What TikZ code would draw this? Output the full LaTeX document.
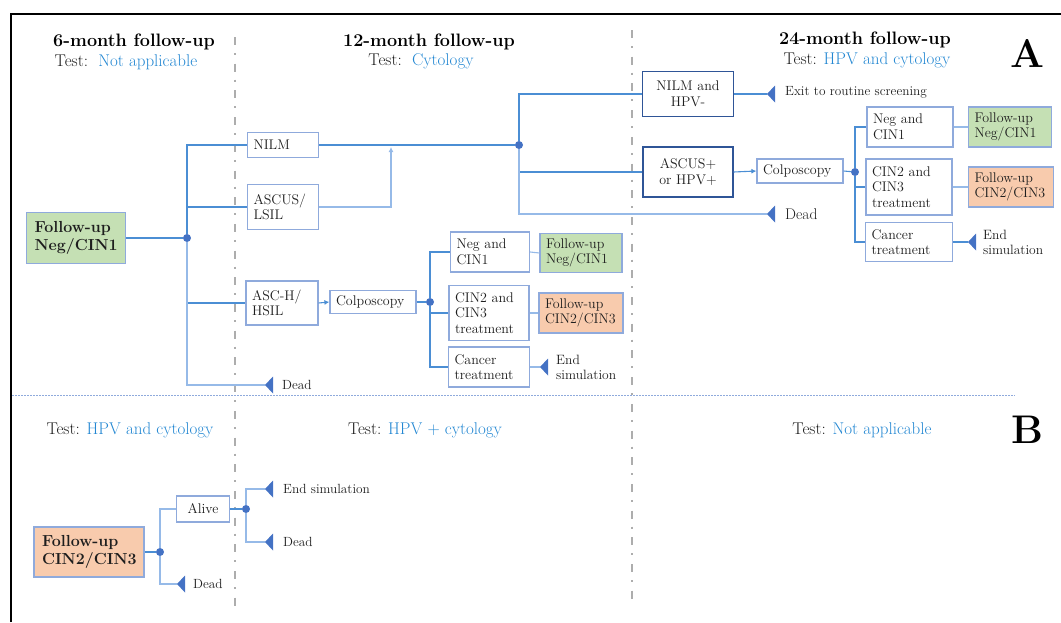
\documentclass[tikz,border=0pt]{standalone}
\usetikzlibrary{arrows.meta}

\definecolor{boxline}{RGB}{143,170,220}
\definecolor{darkline}{RGB}{47,85,151}
\definecolor{conncol}{RGB}{75,142,212}
\definecolor{lightconn}{RGB}{150,186,232}
\definecolor{dotblue}{RGB}{68,114,196}
\definecolor{greenfill}{RGB}{197,224,180}
\definecolor{orangefill}{RGB}{248,203,173}
\definecolor{testblue}{RGB}{35,135,210}
\definecolor{inkcol}{RGB}{30,30,30}

\tikzset{
  stbox/.style={draw=boxline, line width=1.2pt, fill=white, inner xsep=6pt, inner ysep=2pt,
    align=left, text=inkcol, font=\fontsize{14}{15.5}\selectfont},
  dkbox/.style={stbox, draw=darkline, align=center},
  gnbox/.style={stbox, fill=greenfill},
  ogbox/.style={stbox, fill=orangefill},
  bigbold/.style={font=\bfseries\fontsize{16}{18}\selectfont, inner xsep=8pt},
  joint/.style={circle, fill=dotblue, inner sep=0pt, minimum size=8pt},
  conn/.style={draw=conncol, line width=1.1pt},
  lightconn/.style={draw=lightconn, line width=1.1pt},
  connarrow/.style={conn, -{Latex[length=5pt,width=5pt]}},
  note/.style={anchor=west, inner sep=0pt, text=inkcol, align=left, font=\fontsize{13.3}{15}\selectfont},
  heading/.style={text=black, font=\bfseries\fontsize{18}{20}\selectfont},
  testline/.style={text=inkcol, font=\fontsize{17}{19}\selectfont},
  panelmark/.style={text=black, font=\bfseries\fontsize{40}{40}\selectfont},
  colsep/.style={draw=black!32, line width=2pt, dash pattern=on 8pt off 8pt on 2pt off 8.7pt},
  deadtip/.pic={\fill[dotblue] (0,0) -- (8,-8.5) -- (8,8.5) -- cycle;}
}

\begin{document}
\begin{tikzpicture}[x=1pt, y=-1pt]
    % Fix the page size
    \useasboundingbox (0,0) rectangle (1061,622);
    % Draw the frame on the left and at the top
    \draw[line width=2pt] (11,622) -- (11,14) -- (1061,14);
    % Draw the column separators
    \draw[colsep] (235,37) -- (235,608);
    \draw[colsep] (632,30) -- (632,600);
    % Draw the dotted line between A and B
    \draw[boxline, line width=0.8pt, dash pattern=on 1.5pt off 1.5pt] (12,395) -- (1015,395);

    % Headings of the columns
    \node[heading] (h6) at (134,42) {6-month follow-up};
    \node[testline] (t6) at (126,62) {Test:\ \ \textcolor{testblue}{Not applicable}};
    \node[heading] (h12) at (429,42) {12-month follow-up};
    \node[testline] (t12) at (421,61) {Test:\ \ \textcolor{testblue}{Cytology}};
    \node[heading] (h24) at (865,40) {24-month follow-up};
    \node[testline] (t24) at (867,60) {Test: \textcolor{testblue}{HPV and cytology}};
    \node[panelmark] (pa) at (1027,53) {A};

    % Panel A, 6-month column
    \node[gnbox, bigbold, text width=83pt, minimum height=51pt] (fu1) at (76,238) {Follow-up\\Neg/CIN1};
    \node[joint] (d1) at (187,238) {};
    \node[stbox, text width=59pt, minimum height=25pt] (nilm) at (283,145) {NILM};
    \node[stbox, text width=59pt, minimum height=45pt] (ascus) at (283,207) {ASCUS/\\LSIL};
    \node[stbox, text width=60pt, minimum height=44pt] (asch) at (282,303) {ASC-H/\\HSIL};
    \coordinate (dead1) at (265,385);
    \pic at (dead1) {deadtip};
    \node[note] (dead1t) at (282,385) {Dead};
    \draw[conn] (fu1.east) -- (d1);
    \draw[conn] (d1) |- (nilm.west);
    \draw[conn] (d1) |- (ascus.west);
    \draw[conn] (d1) |- (asch.west);
    \draw[lightconn] (d1) |- (dead1);

    % Panel A, 12-month column
    \node[stbox, text width=74pt, minimum height=23pt] (colp1) at (373,302) {Colposcopy};
    \node[joint] (d2) at (430,302) {};
    \node[stbox, text width=67pt, minimum height=40pt] (neg1) at (490,252) {Neg and\\CIN1};
    \node[stbox, text width=68pt, minimum height=55pt] (cin1) at (489,313) {CIN2 and\\CIN3\\treatment};
    \node[stbox, text width=69pt, minimum height=40pt] (canc1) at (489,367) {Cancer\\treatment};
    \node[gnbox, text width=70pt, minimum height=39pt] (fun1) at (581,253) {Follow-up\\Neg/CIN1};
    \node[ogbox, text width=72pt, minimum height=40pt] (fuc1) at (581,313) {Follow-up\\CIN2/CIN3};
    \coordinate (end1) at (540,367);
    \pic at (end1) {deadtip};
    \node[note, font=\fontsize{13.5}{15}\selectfont] (end1t) at (556,367) {End\\simulation};
    \draw[connarrow] (asch.east) -- (colp1.west);
    \draw[conn] (colp1.east) -- (d2);
    \draw[conn] (d2) |- (neg1.west);
    \draw[conn] (d2) |- (cin1.west);
    \draw[conn] (d2) |- (canc1.west);
    \draw[lightconn] (neg1.east) -- (fun1.west);
    \draw[lightconn] (cin1.east) -- (fuc1.west);
    \draw[lightconn] (canc1.east) -- (end1);
    \coordinate (merge) at (391,147);
    \node[joint] (d3) at (519,145) {};
    \draw[conn] (nilm.east) -- (d3);
    \draw[lightconn, -{Latex[length=5pt,width=5pt]}] (ascus.east) -| (merge);

    % Panel A, 24-month column
    \node[dkbox, text width=79pt, minimum height=45pt] (nhpv) at (688,94) {NILM and\\HPV-};
    \node[dkbox, text width=78pt, minimum height=50pt] (ahpv) at (688,172) {ASCUS+\\or HPV+};
    \coordinate (exit) at (767,94);
    \pic at (exit) {deadtip};
    \node[note] (exitt) at (785,92) {Exit to routine screening};
    \coordinate (dead2) at (767,214);
    \pic at (dead2) {deadtip};
    \node[note, font=\fontsize{15.5}{17}\selectfont] (dead2t) at (785,214) {Dead};
    \draw[conn] (d3) |- (nhpv.west);
    \draw[conn] (d3) |- (ahpv.west);
    \draw[lightconn] (d3) |- (dead2);
    \draw[conn] (nhpv.east) -- (exit);
    \node[stbox, text width=74pt, minimum height=24pt] (colp2) at (800,171) {Colposcopy};
    \node[joint] (d4) at (855,172) {};
    \node[stbox, text width=74pt, minimum height=40pt] (neg2) at (910,127) {Neg and\\CIN1};
    \node[stbox, text width=74pt, minimum height=56pt] (cin2) at (909,187) {CIN2 and\\CIN3\\treatment};
    \node[stbox, text width=75pt, minimum height=39pt] (canc2) at (909,242) {Cancer\\treatment};
    \node[gnbox, text width=71pt, minimum height=40pt] (fun2) at (1010,127) {Follow-up\\Neg/CIN1};
    \node[ogbox, text width=73pt, minimum height=40pt] (fuc2) at (1011,187) {Follow-up\\CIN2/CIN3};
    \coordinate (end2) at (968,242);
    \pic at (end2) {deadtip};
    \node[note, font=\fontsize{13.5}{15}\selectfont] (end2t) at (983,242) {End\\simulation};
    \draw[connarrow] (ahpv.east) -- (colp2.west);
    \draw[conn] (colp2.east) -- (d4);
    \draw[conn] (d4) |- (neg2.west);
    \draw[conn] (d4) |- (cin2.west);
    \draw[conn] (d4) |- (canc2.west);
    \draw[lightconn] (neg2.east) -- (fun2.west);
    \draw[lightconn] (cin2.east) -- (fuc2.west);
    \draw[conn] (canc2.east) -- (end2);

    % Panel B
    \node[testline] (tb1) at (130,430) {Test: \textcolor{testblue}{HPV and cytology}};
    \node[testline] (tb2) at (425,430) {Test: \textcolor{testblue}{HPV + cytology}};
    \node[testline] (tb3) at (862,430) {Test: \textcolor{testblue}{Not applicable}};
    \node[panelmark] (pb) at (1027,430) {B};
    \node[ogbox, bigbold, text width=94pt, minimum height=50pt] (fub) at (89,552) {Follow-up\\CIN2/CIN3};
    \node[joint] (d5) at (160,552) {};
    \node[stbox, align=center, text width=41pt, minimum height=26pt] (alive) at (203,509) {Alive};
    \coordinate (dead3) at (177,584);
    \pic at (dead3) {deadtip};
    \node[note] (dead3t) at (193,584) {Dead};
    \node[joint] (d6) at (246,509) {};
    \coordinate (end3) at (265,489);
    \pic at (end3) {deadtip};
    \node[note] (end3t) at (283,489) {End simulation};
    \coordinate (dead4) at (265,542);
    \pic at (dead4) {deadtip};
    \node[note] (dead4t) at (283,542) {Dead};
    \draw[conn] (fub.east) -- (d5);
    \draw[lightconn] (d5) |- (alive.west);
    \draw[lightconn] (d5) |- (dead3);
    \draw[conn] (alive.east) -- (d6);
    \draw[lightconn] (d6) |- (end3);
    \draw[lightconn] (d6) |- (dead4);
\end{tikzpicture}
\end{document}
